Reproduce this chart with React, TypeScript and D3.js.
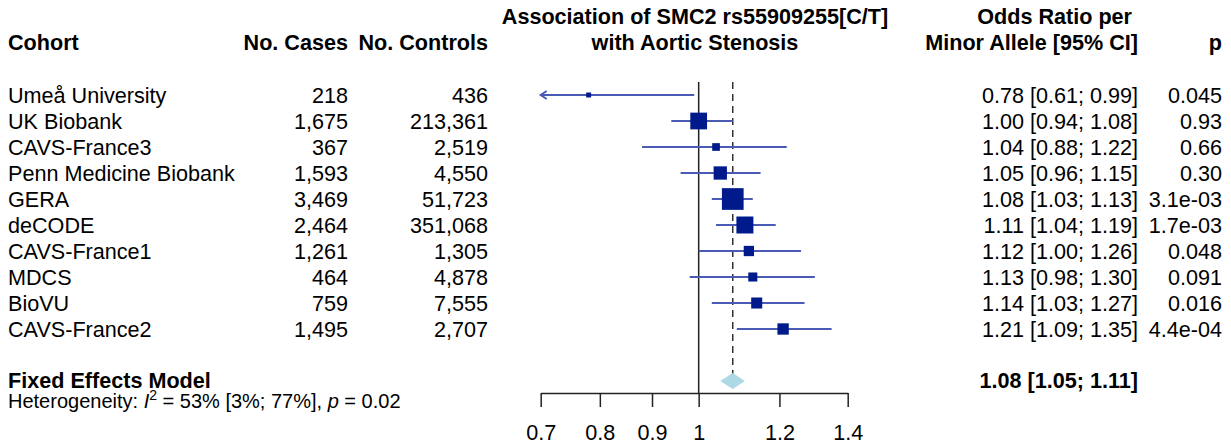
import React, { useRef, useEffect } from 'react';
import * as d3 from 'd3';

// study rows
const cohorts = ['Umeå University', 'UK Biobank', 'CAVS-France3', 'Penn Medicine Biobank', 'GERA', 'deCODE', 'CAVS-France1', 'MDCS', 'BioVU', 'CAVS-France2'];
const cases = ['218', '1,675', '367', '1,593', '3,469', '2,464', '1,261', '464', '759', '1,495'];
const controls = ['436', '213,361', '2,519', '4,550', '51,723', '351,068', '1,305', '4,878', '7,555', '2,707'];
const orValues = [0.78, 1.0, 1.04, 1.05, 1.08, 1.11, 1.12, 1.13, 1.14, 1.21];
const ciLower = [0.61, 0.94, 0.88, 0.96, 1.03, 1.04, 1.0, 0.98, 1.03, 1.09];
const ciUpper = [0.99, 1.08, 1.22, 1.15, 1.13, 1.19, 1.26, 1.3, 1.27, 1.35];
const orLabels = ['0.78 [0.61; 0.99]', '1.00 [0.94; 1.08]', '1.04 [0.88; 1.22]', '1.05 [0.96; 1.15]', '1.08 [1.03; 1.13]', '1.11 [1.04; 1.19]', '1.12 [1.00; 1.26]', '1.13 [0.98; 1.30]', '1.14 [1.03; 1.27]', '1.21 [1.09; 1.35]'];
const pValues = ['0.045', '0.93', '0.66', '0.30', '3.1e-03', '1.7e-03', '0.048', '0.091', '0.016', '4.4e-04'];
const weights = [1.4, 16.1, 3.4, 10.2, 27.1, 16.6, 6.1, 4.7, 7.0, 7.4];

// pooled
const fixedOR = 1.08;
const fixedLower = 1.05;
const fixedUpper = 1.11;
const fixedLabel = '1.08 [1.05; 1.11]';

const xTicks = [0.7, 0.8, 0.9, 1, 1.2, 1.4];

const App = () => {
    const svgRef = useRef<SVGSVGElement>(null);

    useEffect(() => {
        document.body.style.margin = '0';
        const w = 1231;
        const h = 446;
        const font = 'Liberation Sans, Arial, Helvetica, sans-serif';
        const fs = 21.6;
        const lineCol = '#4a5bb5';
        const boxCol = '#001a8c';

        const svg = d3.select(svgRef.current)
            .attr('width', w)
            .attr('height', h)
            .style('font-family', font)
            .style('font-size', fs + 'px');
        svg.selectAll('*').remove();

        const x = d3.scaleLog().domain([0.7, 1.4]).range([540.7, 847.7]);
        const y = d3.scaleLinear().domain([0, 1]).range([95, 121]);
        const box = d3.scaleSqrt().domain([0, d3.max(weights) as number]).range([0, 21.7]);

        // headers
        const head = svg.append('g').attr('font-weight', 'bold').attr('fill', '#000');
        head.append('text').attr('x', 8).attr('y', 50).text('Cohort');
        head.append('text').attr('x', 348).attr('y', 50).attr('text-anchor', 'end').text('No. Cases');
        head.append('text').attr('x', 488).attr('y', 50).attr('text-anchor', 'end').text('No. Controls');
        head.append('text').attr('x', 695).attr('y', 24).attr('text-anchor', 'middle').text('Association of SMC2 rs55909255[C/T]');
        head.append('text').attr('x', 695).attr('y', 50).attr('text-anchor', 'middle').text('with Aortic Stenosis');
        head.append('text').attr('x', 1138).attr('y', 24).attr('text-anchor', 'end').style('white-space', 'pre').text('Odds Ratio per ');
        head.append('text').attr('x', 1138).attr('y', 50).attr('text-anchor', 'end').text('Minor Allele [95% CI]');
        head.append('text').attr('x', 1222).attr('y', 50).attr('text-anchor', 'end').text('p');

        // row text
        const rows = svg.append('g').selectAll('g').data(cohorts).join('g')
            .attr('transform', (d, i) => `translate(0,${y(i)})`);
        rows.append('text').attr('x', 8).attr('dy', '0.35em').text(d => d);
        rows.append('text').attr('x', 348).attr('dy', '0.35em').attr('text-anchor', 'end').text((d, i) => cases[i]);
        rows.append('text').attr('x', 488).attr('dy', '0.35em').attr('text-anchor', 'end').text((d, i) => controls[i]);
        rows.append('text').attr('x', 1138).attr('dy', '0.35em').attr('text-anchor', 'end').text((d, i) => orLabels[i]);
        rows.append('text').attr('x', 1222).attr('dy', '0.35em').attr('text-anchor', 'end').text((d, i) => pValues[i]);

        const axisY = 393;
        const fixedY = y(11);

        // reference lines
        svg.append('line')
            .attr('x1', x(1)).attr('x2', x(1))
            .attr('y1', 82).attr('y2', axisY)
            .attr('stroke', '#222').attr('stroke-width', 1.5);
        svg.append('line')
            .attr('x1', x(fixedOR)).attr('x2', x(fixedOR))
            .attr('y1', 82).attr('y2', fixedY)
            .attr('stroke', '#333').attr('stroke-width', 1.5)
            .attr('stroke-dasharray', '7,5');

        // CI lines
        const [xmin, xmax] = x.domain();
        svg.append('g').selectAll('line').data(orValues).join('line')
            .attr('x1', (d, i) => x(Math.max(ciLower[i], xmin)))
            .attr('x2', (d, i) => x(Math.min(ciUpper[i], xmax)))
            .attr('y1', (d, i) => y(i)).attr('y2', (d, i) => y(i))
            .attr('stroke', lineCol).attr('stroke-width', 2);

        // arrows for truncated CIs
        orValues.forEach((d, i) => {
            if (ciLower[i] < xmin) {
                const ax = x(xmin), ay = y(i);
                svg.append('path')
                    .attr('d', `M${ax + 6},${ay - 4}L${ax},${ay}L${ax + 6},${ay + 4}`)
                    .attr('fill', 'none').attr('stroke', lineCol).attr('stroke-width', 2);
            }
        });

        // boxes
        svg.append('g').selectAll('rect').data(orValues).join('rect')
            .attr('x', (d, i) => x(d) - box(weights[i]) / 2)
            .attr('y', (d, i) => y(i) - box(weights[i]) / 2)
            .attr('width', (d, i) => box(weights[i]))
            .attr('height', (d, i) => box(weights[i]))
            .attr('fill', boxCol);

        // fixed effects diamond
        svg.append('path')
            .attr('d', `M${x(fixedLower)},${fixedY}L${x(fixedOR)},${fixedY - 8}L${x(fixedUpper)},${fixedY}L${x(fixedOR)},${fixedY + 8}Z`)
            .attr('fill', '#add8e6');

        svg.append('text').attr('x', 8).attr('y', 388).attr('font-weight', 'bold').text('Fixed Effects Model');
        svg.append('text').attr('x', 1138).attr('y', 388).attr('font-weight', 'bold').attr('text-anchor', 'end').text(fixedLabel);

        const het = svg.append('text').attr('x', 8).attr('y', 408).style('font-size', '20px');
        het.append('tspan').text('Heterogeneity: ');
        het.append('tspan').attr('font-style', 'italic').text('I');
        het.append('tspan').attr('dy', -8).style('font-size', '14px').text('2');
        het.append('tspan').attr('dy', 8).style('white-space', 'pre').text(' = 53% [3%; 77%], ');
        het.append('tspan').attr('font-style', 'italic').text('p');
        het.append('tspan').style('white-space', 'pre').text(' = 0.02');

        // axis
        const xAxis = d3.axisBottom(x).tickValues(xTicks).tickFormat(d => String(d))
            .tickSize(14).tickSizeOuter(0).tickPadding(18);
        const ax = svg.append('g').attr('transform', `translate(0,${axisY})`).call(xAxis);
        ax.selectAll('path, line').attr('stroke', '#222').attr('stroke-width', 1.5);
        ax.selectAll('text').attr('fill', '#000').style('font-size', fs + 'px').style('font-family', font);
    }, []);

    return (
        <div>
            <svg ref={svgRef} style={{ position: 'absolute', left: 0, top: 0 }}></svg>
        </div>
    );
};

export default App;
